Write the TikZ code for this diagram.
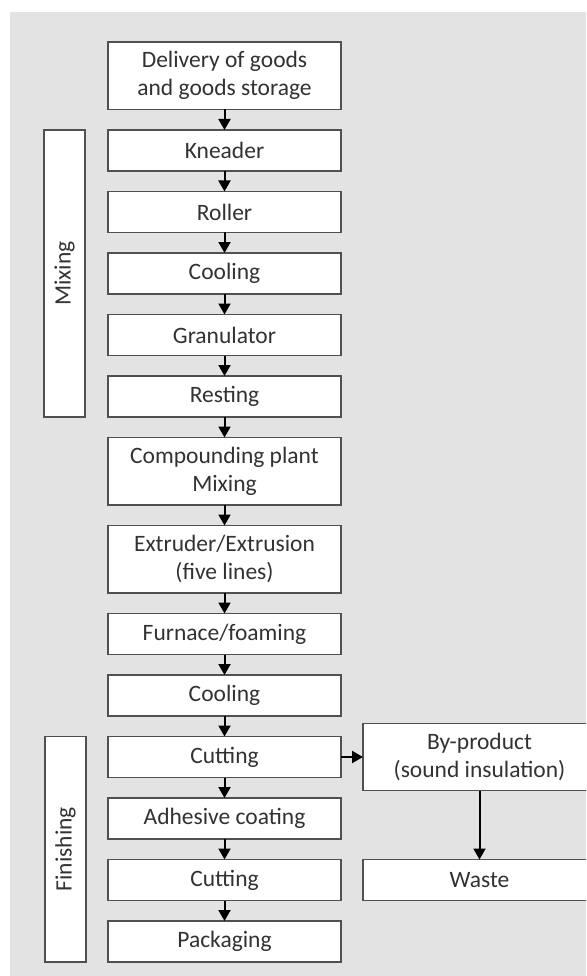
\documentclass[tikz,border=0pt]{standalone}
\usepackage{fontspec}
\setmainfont{Carlito}
\usetikzlibrary{positioning,arrows.meta,fit}
\definecolor{bggray}{RGB}{227,227,227}
\definecolor{boxline}{RGB}{80,80,80}
\definecolor{textgray}{RGB}{50,50,50}

\begin{document}
\begin{tikzpicture}[
x=1pt,y=1pt,
font=\fontsize{23.5}{28}\selectfont,
process/.style={rectangle,draw=boxline,fill=white,line width=1.3pt,text=textgray,
  minimum width=233pt,minimum height=41pt,inner sep=0pt,outer sep=0pt,align=center},
twoline/.style={process,minimum height=67.5pt},
phase/.style={rectangle,draw=boxline,fill=white,line width=1.3pt,inner sep=0pt},
arrow/.style={-{Triangle[width=12pt,length=11pt]},line width=2pt},
node distance=20.5pt
]
\clip (0,0) rectangle (586,-976);
\fill[bggray] (10,-12) rectangle (586,-976);

\node[twoline,anchor=north] (delivery) at (224.5,-42) {Delivery of goods\\and goods storage};
\node[process] (kneader) [below=of delivery] {Kneader};
\node[process] (roller) [below=of kneader] {Roller};
\node[process] (cooling) [below=of roller] {Cooling};
\node[process] (granulator) [below=of cooling] {Granulator};
\node[process] (resting) [below=of granulator] {Resting};
\node[twoline] (compounding) [below=of resting] {Compounding plant\\Mixing};
\node[twoline] (extruder) [below=of compounding] {Extruder/Extrusion\\(five lines)};
\node[process] (furnace) [below=of extruder] {Furnace/foaming};
\node[process] (cooling2) [below=of furnace] {Cooling};
\node[process] (cutting) [below=of cooling2] {Cutting};
\node[process] (adhesive) [below=of cutting] {Adhesive coating};
\node[process] (cutting2) [below=of adhesive] {Cutting};
\node[process] (packaging) [below=of cutting2] {Packaging};

\node[twoline] (byproduct) [right=22pt of cutting] {By-product\\(sound insulation)};
\node[process] (waste) at (byproduct |- cutting2) {Waste};

% phase brackets on the left
\coordinate (mixtl) at ([xshift=-64pt]kneader.north west);
\coordinate (mixbr) at ([xshift=-23pt]resting.south west);
\node[phase,fit=(mixtl)(mixbr)] (mixing) {};
\node[rotate=90,text=textgray] at (mixing.center) {Mixing};

\coordinate (fintl) at ([xshift=-63pt]cutting.north west);
\coordinate (finbr) at ([xshift=-22pt]packaging.south west);
\node[phase,fit=(fintl)(finbr)] (finishing) {};
\node[rotate=90,text=textgray] at (finishing.center) {Finishing};

\foreach \a/\b in {delivery/kneader,kneader/roller,roller/cooling,cooling/granulator,
  granulator/resting,resting/compounding,compounding/extruder,extruder/furnace,
  furnace/cooling2,cooling2/cutting,cutting/adhesive,adhesive/cutting2,
  cutting2/packaging,cutting/byproduct,byproduct/waste}
  \draw[arrow] (\a) -- (\b);

\end{tikzpicture}
\end{document}
